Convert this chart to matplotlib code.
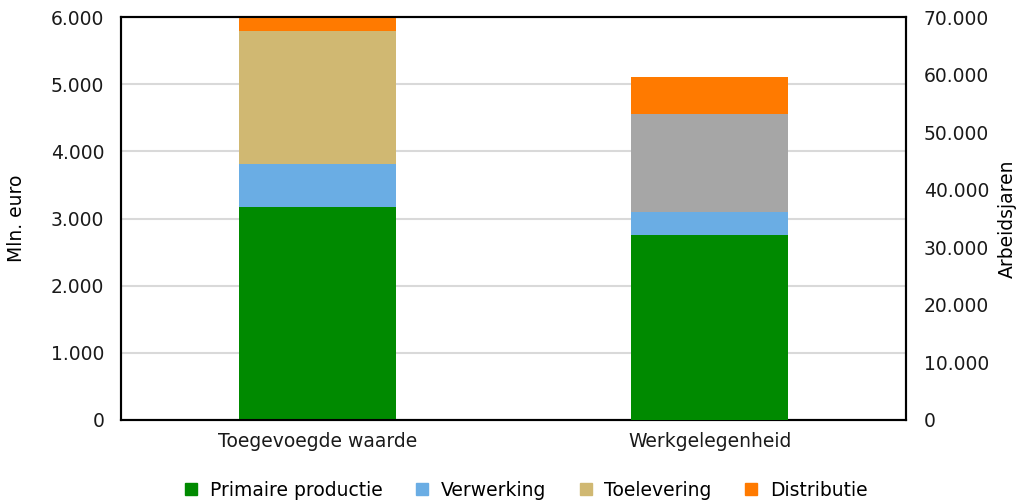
import matplotlib
matplotlib.use('Agg')
import matplotlib.pyplot as plt
from matplotlib.ticker import FuncFormatter, MultipleLocator
from matplotlib.lines import Line2D

# data: index 0 = Toegevoegde waarde (mln. euro), index 1 = Werkgelegenheid (arbeidsjaren)
categories = ['Toegevoegde waarde', 'Werkgelegenheid']
series = ['Primaire productie', 'Verwerking', 'Toelevering', 'Distributie']
primaire = [3175, 32100]
verwerking = [640, 4000]
toelevering = [1980, 17150]
distributie = [205, 6350]

colors_left = ['#008A00', '#6AADE4', '#D0B872', '#FF7A00']
colors_right = ['#008A00', '#6AADE4', '#A6A6A6', '#FF7A00']

plt.rcParams['font.family'] = ['DejaVu Sans']
fs = 13.5

fig, ax1 = plt.subplots(figsize=(10.19, 5.04), dpi=100)
fig.subplots_adjust(left=0.1187, right=0.889, top=0.966, bottom=0.1667)
ax2 = ax1.twinx()

width = 0.4
values = [primaire, verwerking, toelevering, distributie]

bottom = 0
for vals, c in zip(values, colors_left):
    ax1.bar(0, vals[0], width, bottom=bottom, color=c, zorder=3)
    bottom += vals[0]

bottom = 0
for vals, c in zip(values, colors_right):
    ax2.bar(1, vals[1], width, bottom=bottom, color=c, zorder=3)
    bottom += vals[1]

ax1.set_xlim(-0.5, 1.5)
ax1.set_ylim(0, 6000)
ax2.set_ylim(0, 70000)
ax1.yaxis.set_major_locator(MultipleLocator(1000))
ax2.yaxis.set_major_locator(MultipleLocator(10000))

fmt = FuncFormatter(lambda v, p: f'{int(v):,}'.replace(',', '.'))
ax1.yaxis.set_major_formatter(fmt)
ax2.yaxis.set_major_formatter(fmt)

ax1.set_xticks([0, 1])
ax1.set_xticklabels(categories)

ax1.grid(axis='y', color='#D9D9D9', linewidth=1.5, zorder=0)
ax1.set_axisbelow(True)

for ax in (ax1, ax2):
    for s in ax.spines.values():
        s.set_color('black')
        s.set_linewidth(1.5)
ax1.tick_params(axis='y', length=0, pad=12, labelsize=fs, colors='#1a1a1a')
ax2.tick_params(axis='y', length=0, pad=13, labelsize=fs, colors='#1a1a1a')
ax1.tick_params(axis='x', length=0, pad=9, labelsize=fs, colors='#1a1a1a')

ax1.set_ylabel('Mln. euro', fontsize=fs, labelpad=18)
ax2.set_ylabel('Arbeidsjaren', fontsize=fs, labelpad=6)

handles = [Line2D([], [], marker='s', linestyle='none', markersize=8,
                  markerfacecolor=c, markeredgecolor=c) for c in colors_left]
fig.legend(handles, series, loc='lower center', bbox_to_anchor=(0.515, -0.025), ncol=4,
           frameon=False, fontsize=fs, handletextpad=0.5, columnspacing=1.6,
           handlelength=1.0)

fig.savefig('out.png', dpi=100)
